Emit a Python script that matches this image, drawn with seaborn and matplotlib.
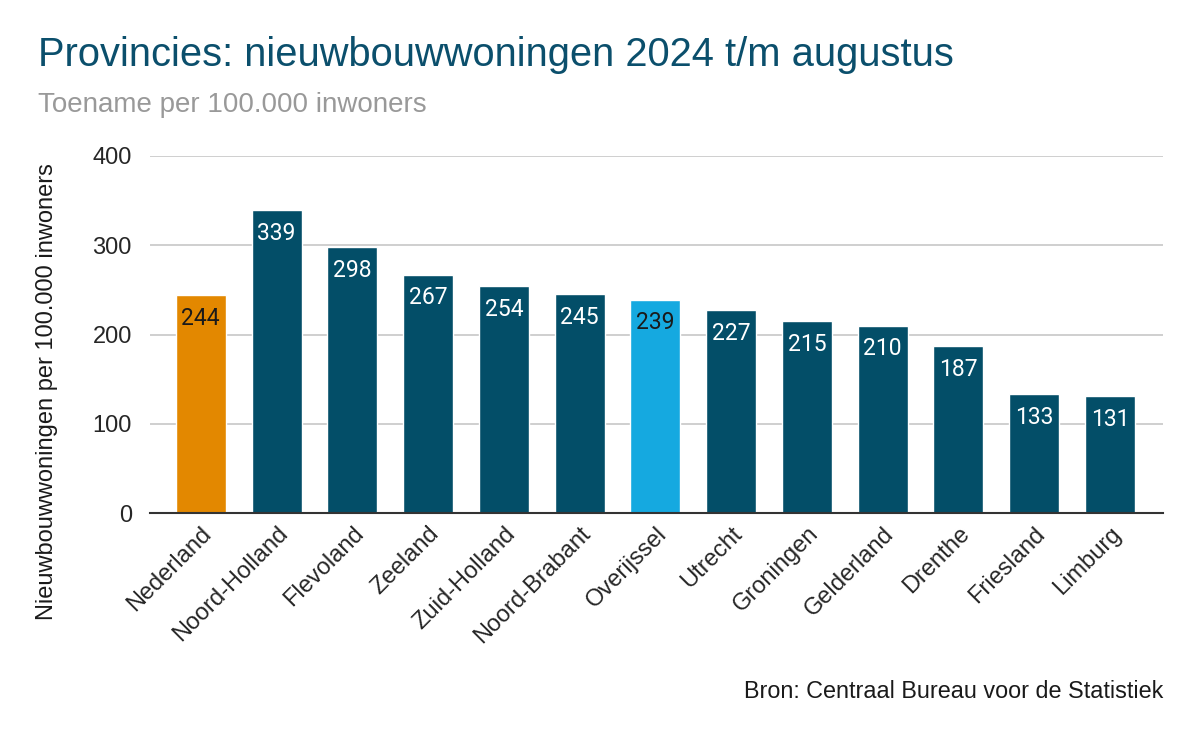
import matplotlib
matplotlib.use('Agg')
import matplotlib.pyplot as plt
import seaborn as sns
import pandas as pd

# data
provincies = ['Nederland', 'Noord-Holland', 'Flevoland', 'Zeeland', 'Zuid-Holland',
              'Noord-Brabant', 'Overijssel', 'Utrecht', 'Groningen', 'Gelderland',
              'Drenthe', 'Friesland', 'Limburg']
waarden = [244, 339, 298, 267, 254, 245, 239, 227, 215, 210, 187, 133, 131]
y_ticks = [0, 100, 200, 300, 400]

df = pd.DataFrame({'Provincie': provincies, 'Waarde': waarden})

donker = '#034E68'
kleuren = {p: donker for p in provincies}
kleuren['Nederland'] = '#E38800'
kleuren['Overijssel'] = '#15A9E0'
label_kleur = {p: 'white' for p in provincies}
label_kleur['Nederland'] = '#1a1a1a'
label_kleur['Overijssel'] = '#1a1a1a'

sns.set_style('white')
plt.rcParams['font.family'] = ['Liberation Sans', 'DejaVu Sans']

fig = plt.figure(figsize=(11.99, 7.42), dpi=100)
ax = fig.add_axes([150 / 1199, 1 - 513 / 742, (1163 - 150) / 1199, (513 - 156) / 742])

sns.barplot(data=df, x='Provincie', y='Waarde', hue='Provincie', palette=kleuren,
            width=0.66, legend=False, saturation=1, ax=ax)

ax.set_ylim(0, 400)
ax.set_xlim(-0.67, 12.7)
ax.set_yticks(y_ticks)
ax.yaxis.grid(True, color='#cccccc', linewidth=1.3)
ax.set_axisbelow(True)
for s in ['top', 'right', 'left']:
    ax.spines[s].set_visible(False)
ax.spines['bottom'].set_color('#333333')
ax.spines['bottom'].set_linewidth(1.5)
ax.tick_params(axis='y', length=0, labelsize=17, pad=13)
ax.tick_params(axis='x', length=0, labelsize=17, pad=7)
plt.setp(ax.get_xticklabels(), rotation=45, ha='right', rotation_mode='anchor')

ax.set_xlabel('')
ax.set_ylabel('')
fig.text(47 / 1199, 1 - 392 / 742, 'Nieuwbouwwoningen per 100.000 inwoners',
         fontsize=17, rotation=90, ha='center', va='center', color='#1a1a1a')

for i, (p, v) in enumerate(zip(provincies, waarden)):
    ax.annotate(str(v), (i, v), xytext=(0, -23), textcoords='offset pixels',
                ha='center', va='center', fontsize=16.5, color=label_kleur[p],
                family=['Roboto', 'DejaVu Sans'])

fig.text(38 / 1199, 1 - 55 / 742, 'Provincies: nieuwbouwwoningen 2024 t/m augustus',
         fontsize=28.7, color='#0B4F6C', va='center', ha='left')
fig.text(38 / 1199, 1 - 105 / 742, 'Toename per 100.000 inwoners',
         fontsize=20, color='#999999', va='center', ha='left')
fig.text(1163 / 1199, 1 - 692 / 742, 'Bron: Centraal Bureau voor de Statistiek',
         fontsize=16.8, color='#1a1a1a', va='center', ha='right')

fig.savefig('out.png', dpi=100)
